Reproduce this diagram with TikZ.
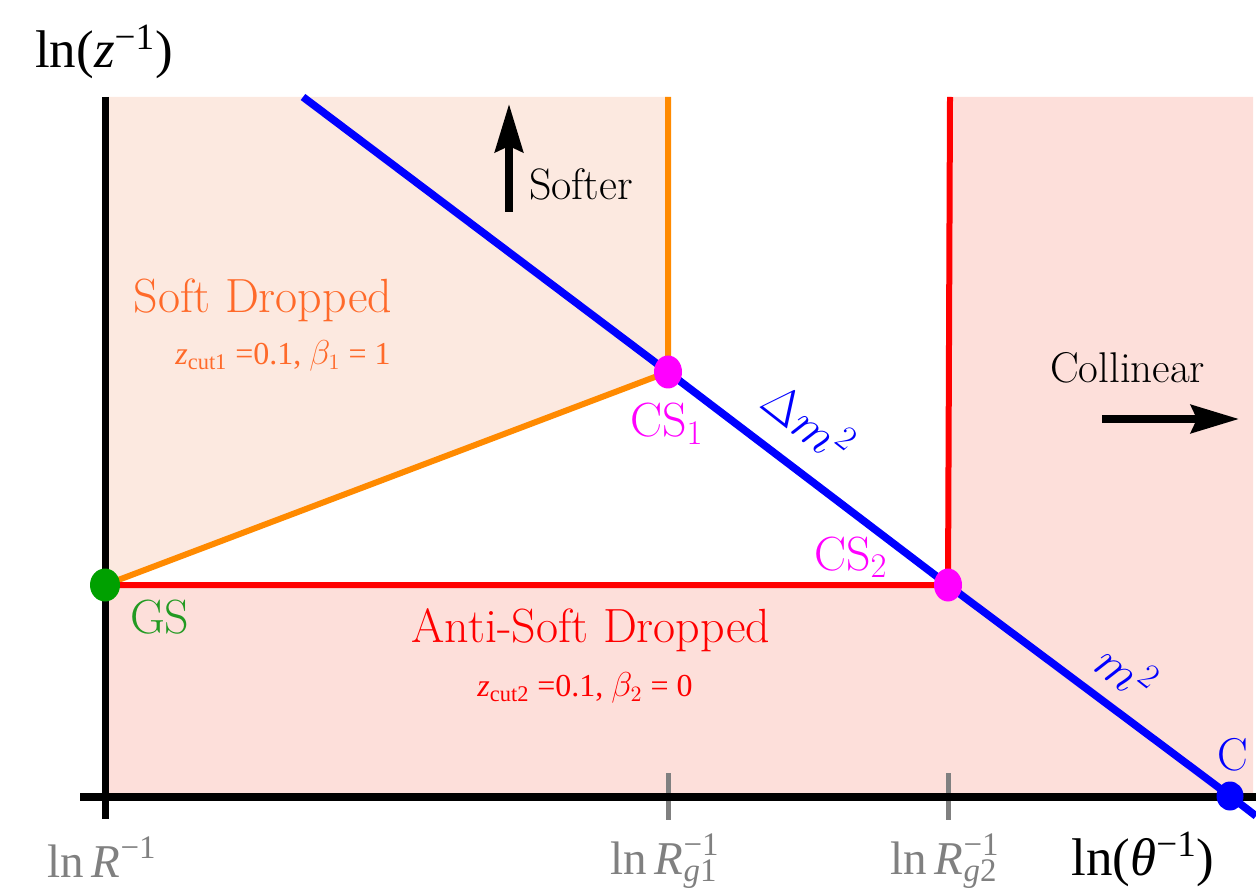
\documentclass[tikz,border=0pt]{standalone}
\usepackage{fontspec}
\newfontfamily\tms{Liberation Serif}
\usetikzlibrary{shapes.geometric,arrows.meta}
\definecolor{softfill}{HTML}{FCE9E0}
\definecolor{antifill}{HTML}{FDDFDA}
\definecolor{orangeL}{HTML}{FF8A00}
\definecolor{orangeT}{HTML}{FF6A2A}
\definecolor{gsgreen}{HTML}{00A000}
\definecolor{gstext}{HTML}{229A22}
\definecolor{tickgray}{HTML}{808080}
\definecolor{magent}{HTML}{FF00FF}
\tikzset{
  dotmark/.style={ellipse, inner sep=0pt, minimum width=14pt, minimum height=16.5pt},
  axisline/.style={black, line width=3.5pt},
  tickline/.style={tickgray, line width=2.5pt},
  bigarrow/.style={line width=3.8pt, -{Stealth[length=24pt,width=14pt,inset=3pt]}},
  ticklab/.style={tickgray, anchor=base, font=\tms\fontsize{23.5}{26}\selectfont},
  axlab/.style={black, anchor=base, font=\tms\fontsize{26.5}{30}\selectfont},
  ptlab/.style={anchor=base west, font=\fontsize{24}{26}\selectfont},
}
\begin{document}
\begin{tikzpicture}[x=0.5pt,y=-0.5pt]
\useasboundingbox (0,0) rectangle (1256,892);
% key points
\coordinate (GSp) at (105,585);
\coordinate (CS1p) at (668,372);
\coordinate (CS2p) at (948,585);
\coordinate (Cp) at (1230,796);
\coordinate (Btop) at (303,97);
\coordinate (Bend) at (1256,816);
\coordinate (Otop) at (668,97);
\coordinate (Rtop) at (950,97);
\coordinate (Ytop) at (105,97);
\coordinate (Ybot) at (105,819);
\coordinate (Xl) at (80,797);
\coordinate (Xr) at (1256,797);
% regions
\fill[softfill] (Ytop) -- (Otop) -- (CS1p) -- (GSp) -- cycle;
\fill[antifill] (GSp) -- (CS2p) -- (948,97) -- (1253,97) -- (1253,797) -- (105,797) -- cycle;
% ticks
\coordinate (T1a) at (668,773); \coordinate (T1b) at (668,820);
\coordinate (T2a) at (948,773); \coordinate (T2b) at (948,820);
\draw[tickline] (T1a) -- (T1b);
\draw[tickline] (T2a) -- (T2b);
% axes
\draw[axisline] (Ytop) -- (Ybot);
\draw[black, line width=4pt] (Xl) -- (Xr);
% boundary lines
\draw[orangeL, line width=3pt] (Otop) -- (CS1p) -- (GSp);
\draw[red, line width=3pt] (Rtop) -- (CS2p) -- (GSp);
\draw[blue, line width=3.8pt] (Btop) -- (CS1p) -- (CS2p) -- (Cp) -- (Bend);
% dots
\node[dotmark, fill=gsgreen, minimum width=15pt] (GS) at (GSp) {};
\node[dotmark, fill=magent] (CS1) at (CS1p) {};
\node[dotmark, fill=magent] (CS2) at (CS2p) {};
\node[dotmark, fill=blue, minimum width=13.5pt, minimum height=14.5pt] (C) at (Cp) {};
% point labels
\node[ptlab, gstext] (GSl) at (123,633) {GS};
\node[ptlab, magent] (CS1l) at (623,437) {CS$_1$};
\node[ptlab, magent] (CS2l) at (807,570) {CS$_2$};
\node[ptlab, blue, font=\fontsize{23}{26}\selectfont] (Cl) at (1210,770) {C};
\node[blue, rotate=-38, font=\fontsize{24}{26}\selectfont] (dm) at (809,421) {$\Delta m^2$};
\node[blue, rotate=-38, font=\fontsize{24}{26}\selectfont] (m2) at (1127,671) {$m^2$};
% region labels
\node[orangeT, font=\fontsize{24}{26}\selectfont] (sd) at (263,300) {Soft Dropped};
\node[orangeT, font=\tms\fontsize{16}{18}\selectfont] (sdp) at (283,356) {\textit{z}\textsubscript{cut1} =0.1, $\beta_1$ = 1};
\node[red, font=\fontsize{24}{26}\selectfont] (asd) at (591,630) {Anti-Soft Dropped};
\node[red, font=\tms\fontsize{16}{18}\selectfont] (asdp) at (585,688) {\textit{z}\textsubscript{cut2} =0.1, $\beta_2$ = 0};
% direction arrows
\coordinate (Sa) at (509,212); \coordinate (Sb) at (509,104);
\draw[bigarrow] (Sa) -- (Sb);
\node[font=\fontsize{22}{24}\selectfont, anchor=base west] (soft) at (522,200) {Softer};
\node[font=\fontsize{21.5}{24}\selectfont, anchor=base west] (coll) at (1043,383) {Collinear};
\coordinate (Ca) at (1102,419); \coordinate (Cb) at (1239,419);
\draw[bigarrow] (Ca) -- (Cb);
% axis labels
\node[axlab] (ylab) at (104,68) {ln(\textit{z}\textsuperscript{−1})};
\node[axlab] (xlab) at (1143,875) {ln(\textit{θ}\textsuperscript{−1})};
\node[ticklab] (l0) at (102,877) {ln\,\textit{R}\textsuperscript{−1}};
\node[ticklab] (l1) at (664,874) {ln\,\textit{R}\rlap{\textsuperscript{−1}}\textsubscript{\textit{g}1}};
\node[ticklab] (l2) at (944,874) {ln\,\textit{R}\rlap{\textsuperscript{−1}}\textsubscript{\textit{g}2}};
\end{tikzpicture}
\end{document}
